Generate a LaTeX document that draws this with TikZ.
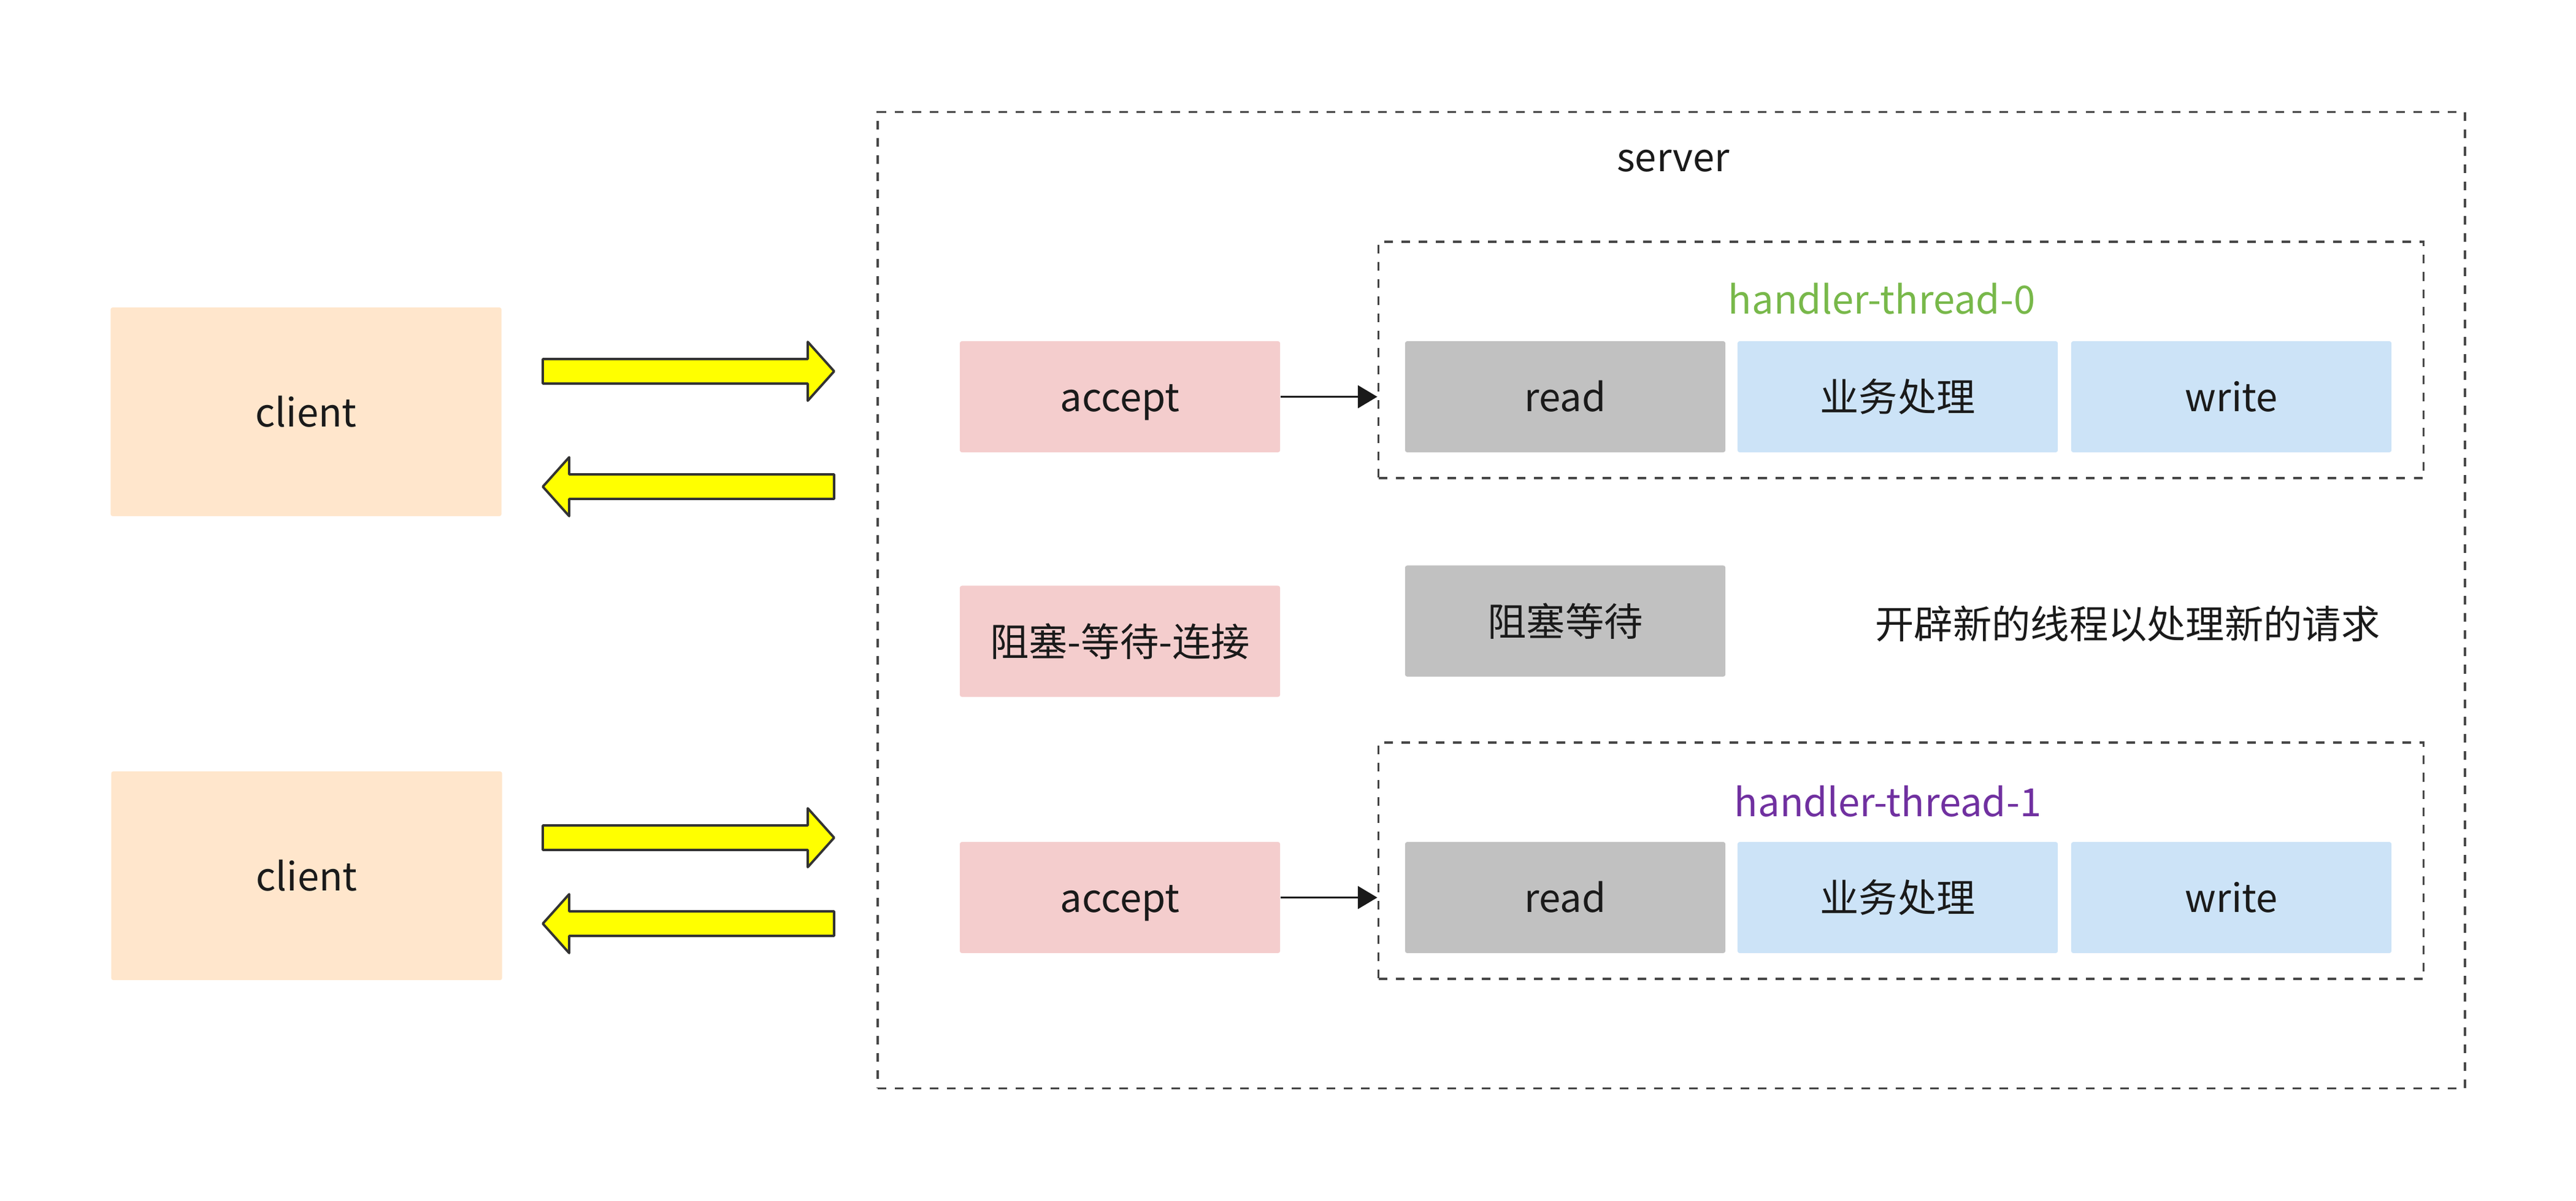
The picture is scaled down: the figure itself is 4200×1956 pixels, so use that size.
\documentclass[tikz,border=0pt]{standalone}
\usepackage{fontspec}
\setmainfont{Noto Sans CJK SC}
\usetikzlibrary{positioning,arrows.meta}
\definecolor{clientbg}{HTML}{FFE6CC}
\definecolor{acceptbg}{HTML}{F4CDCD}
\definecolor{readbg}{HTML}{C1C1C1}
\definecolor{workbg}{HTML}{CCE3F7}
\definecolor{pipe}{HTML}{FFFF00}
\definecolor{edge}{HTML}{333333}
\definecolor{txt}{HTML}{1A1A1A}
\definecolor{tgreen}{HTML}{78B84A}
\definecolor{tpurple}{HTML}{7030A0}
\newlength{\lwidth}
\setlength{\lwidth}{1.1pt}

\begin{document}
\begin{tikzpicture}[x=0.01cm,y=-0.01cm,
  every node/.style={font=\fontsize{18}{22}\selectfont,text=txt,inner sep=0pt,
                     text height=16pt,text depth=2.2pt},
  box/.style={minimum width=5.22cm,minimum height=1.81cm,rounded corners=1pt},
  frame/.style={draw=edge!90,line width=\lwidth,dash pattern=on 4pt off 4pt},
  pipearrow/.style={draw=edge,fill=pipe,line width=\lwidth,line join=round}]
  \useasboundingbox (0,0) rectangle (4200,1956);

  %% clients
  %% ------------------------------------
  \node[box,fill=clientbg,minimum width=6.37cm,minimum height=3.40cm] (client0) at (499,671)  {client};
  \node[box,fill=clientbg,minimum width=6.37cm,minimum height=3.40cm] (client1) at (500,1427) {client};

  %% request / response pipes
  %% ------------------------------------
  \pgfmathsetmacro{\pl}{885}  \pgfmathsetmacro{\pr}{1360}
  \pgfmathsetmacro{\sh}{20}   \pgfmathsetmacro{\hh}{48}
  \pgfmathsetmacro{\hl}{43}
  \foreach \c in {605,1365}
    \draw[pipearrow] (\pl,\c-\sh) -- (\pr-\hl,\c-\sh) -- (\pr-\hl,\c-\hh) -- (\pr,\c)
                  -- (\pr-\hl,\c+\hh) -- (\pr-\hl,\c+\sh) -- (\pl,\c+\sh) -- cycle;
  \foreach \c in {793,1505}
    \draw[pipearrow] (\pl,\c) -- (\pl+\hl,\c-\hh) -- (\pl+\hl,\c-\sh) -- (\pr,\c-\sh)
                  -- (\pr,\c+\sh) -- (\pl+\hl,\c+\sh) -- (\pl+\hl,\c+\hh) -- cycle;

  %% server
  %% ------------------------------------
  \node[frame,minimum width=25.86cm,minimum height=15.90cm] (serverbox) at (2725,978) {};
  \node (server) at (2728,255) {server};

  \node[box,fill=acceptbg] (accept0) at (1826,646.5) {accept};
  \node[box,fill=acceptbg] (wait0)   at (1826,1045)  {阻塞-等待-连接};
  \node[box,fill=acceptbg] (accept1) at (1826,1462.5) {accept};

  %% handler threads
  %% ------------------------------------
  \node[frame,minimum width=17.03cm,minimum height=3.85cm] (thread0) at (3099.5,586.5)  {};
  \node[text=tgreen] (title0) at (3068,487) {handler-thread-0};
  \node[box,fill=readbg] (read0)  at (2552,646.5) {read};
  \node[box,fill=workbg] (work0)  at (3094,646.5) {业务处理};
  \node[box,fill=workbg] (write0) at (3638,646.5) {write};

  \node[box,fill=readbg] (block) at (2552,1012) {阻塞等待};
  \node (note) at (3469,1016) {开辟新的线程以处理新的请求};

  \node[frame,minimum width=17.03cm,minimum height=3.85cm] (thread1) at (3099.5,1402.5) {};
  \node[text=tpurple] (title1) at (3078,1306) {handler-thread-1};
  \node[box,fill=readbg] (read1)  at (2552,1462.5) {read};
  \node[box,fill=workbg] (work1)  at (3094,1462.5) {业务处理};
  \node[box,fill=workbg] (write1) at (3638,1462.5) {write};

  %% dispatch
  \draw[-{Triangle[length=9pt,width=10.5pt]},line width=0.9pt,draw=txt]
       (accept0.east) -- (accept0.east -| thread0.west);
  \draw[-{Triangle[length=9pt,width=10.5pt]},line width=0.9pt,draw=txt]
       (accept1.east) -- (accept1.east -| thread1.west);
\end{tikzpicture}
\end{document}
